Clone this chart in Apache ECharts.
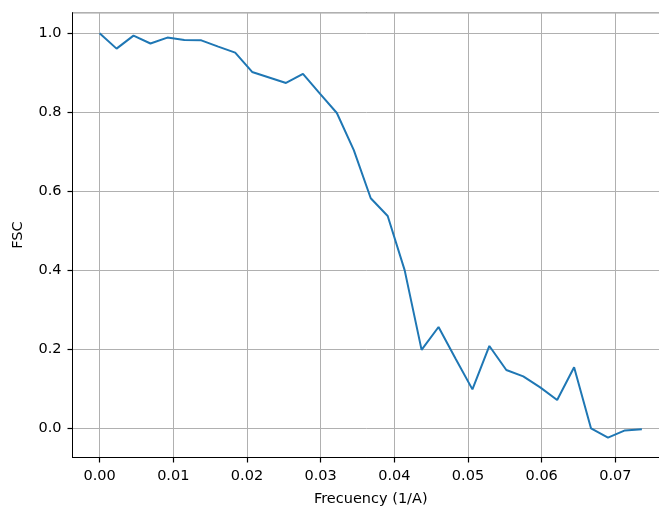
<!DOCTYPE html>
<html lang="en" style="height: 100%">

<head>
  <meta charset="utf-8" />
</head>

<body style="height: 100%; margin: 0; background: #fff">
  <div id="container" style="width: 659px; height: 510px"></div>

  <script type="text/javascript" src="https://fastly.jsdelivr.net/npm/echarts@6.0.0/dist/echarts.min.js"></script>

  <script type="text/javascript">
    // FSC curve values
    var frequency = [0, 0.0023, 0.0046, 0.0069, 0.0092, 0.0115, 0.0138, 0.0161, 0.0184, 0.0207,
      0.023, 0.0253, 0.0276, 0.0299, 0.0322, 0.0345, 0.0368, 0.0391, 0.0414, 0.0437,
      0.046, 0.0483, 0.0506, 0.0529, 0.0552, 0.0575, 0.0598, 0.0621, 0.0644, 0.0667,
      0.069, 0.0713, 0.0736];
    var fsc = [1.0, 0.961, 0.994, 0.974, 0.989, 0.983, 0.982, 0.966, 0.951, 0.902,
      0.888, 0.874, 0.897, 0.847, 0.798, 0.704, 0.582, 0.537, 0.400, 0.198,
      0.256, 0.176, 0.098, 0.208, 0.147, 0.131, 0.103, 0.071, 0.154, -0.001,
      -0.024, -0.006, -0.003];

    var dom = document.getElementById("container");
    var myChart = echarts.init(dom, null, { renderer: "canvas" });

    var points = frequency.map(function (f, i) { return [f, fsc[i]]; });
    var font = "DejaVu Sans";

    var option = {
      animation: false,
      textStyle: { fontFamily: font },
      grid: {
        left: 72.5,
        top: 12.7,
        width: 596.5,
        bottom: 52.5,
        containLabel: false,
        outerBoundsMode: "none",
        show: true,
        borderColor: "#000",
        borderWidth: 1,
        backgroundColor: "transparent",
      },
      xAxis: {
        type: "value",
        min: -0.00368,
        max: 0.07728,
        splitNumber: 8,
        name: "Frecuency (1/A)",
        nameLocation: "middle",
        nameGap: 34,
        nameTextStyle: { fontFamily: font, fontSize: 14.5, color: "#000" },
        axisLine: { show: true, onZero: false, lineStyle: { color: "#000", width: 1 } },
        axisTick: { show: true, inside: false, length: 5, lineStyle: { color: "#000", width: 1.2 } },
        axisLabel: {
          showMinLabel: false,
          showMaxLabel: false,
          margin: 11,
          fontFamily: font,
          fontSize: 14.5,
          color: "#000",
          formatter: function (v) { return v.toFixed(2); },
        },
        splitLine: { show: true, lineStyle: { color: "#b0b0b0", width: 1 } },
      },
      yAxis: {
        type: "value",
        min: -0.0745,
        max: 1.052,
        splitNumber: 6,
        name: "FSC",
        nameLocation: "middle",
        nameGap: 47,
        nameTextStyle: { fontFamily: font, fontSize: 14.5, color: "#000" },
        axisLine: { show: true, onZero: false, lineStyle: { color: "#000", width: 1 } },
        axisTick: { show: true, inside: false, length: 5, lineStyle: { color: "#000", width: 1.2 } },
        axisLabel: {
          showMinLabel: false,
          showMaxLabel: false,
          margin: 11,
          fontFamily: font,
          fontSize: 14.5,
          color: "#000",
          formatter: function (v) { return v.toFixed(1); },
        },
        splitLine: { show: true, lineStyle: { color: "#b0b0b0", width: 1 } },
      },
      series: [
        {
          type: "line",
          data: points,
          showSymbol: false,
          symbol: "none",
          lineStyle: { color: "#1f77b4", width: 2 },
          z: 3,
        },
      ],
    };

    myChart.setOption(option);
    window.addEventListener("resize", myChart.resize);
  </script>
</body>

</html>
